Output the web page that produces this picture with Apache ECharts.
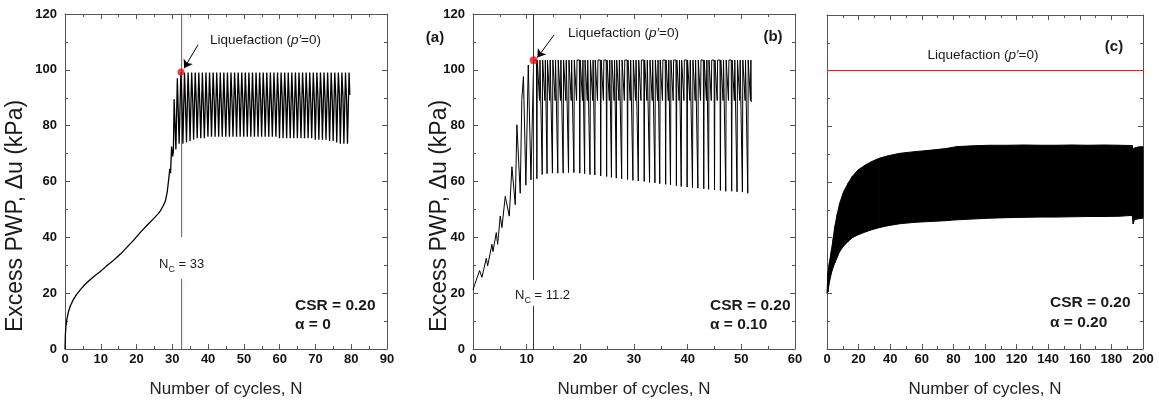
<!DOCTYPE html>
<html><head><meta charset="utf-8">
<script src="https://cdn.jsdelivr.net/npm/echarts@6/dist/echarts.min.js"></script>
<style>html,body{margin:0;padding:0;background:#fff}#c{width:1159px;height:403px}</style>
</head><body><div id="c"></div>
<script>
// ---------- Panel (a): CSR 0.20, alpha 0 ----------
const p1Rise = [[0,0],[0.1,5],[0.25,8],[0.5,10.5],[1,13.5],[1.5,15.5],[2.3,17.6],[3.2,19.5],[4.2,21.1],[5.5,23],[7,24.8],[8.5,26.4],[9.8,27.7],[11.5,29.6],[13.5,31.7],[15.5,34],[17.3,36.4],[19.2,39],[21,41.7],[23,44.4],[24.7,46.6],[26,48.4],[26.6,49.4],[27.5,51.4],[28.1,53.2],[28.6,56.5],[29,61],[29.3,64.5],[29.5,63],[29.8,72.5],[30.1,69],[30.3,71],[30.5,89.5],[31.0,71.5],[31.4,97],[31.9,73.5],[32.4,99.2]];
const p1Cycles = [[32.7,88],[32.95,73.5],[33.4,99],[33.7,87],[33.95,74],[34.4,99],[34.7,88],[34.95,74.5],[35.4,99],[35.7,89],[35.95,75],[36.4,99],[36.7,88],[36.95,75.5],[37.4,99],[37.7,87],[37.95,75.5],[38.4,99],[38.7,86],[38.95,75.5],[39.4,99],[39.7,87],[39.95,76],[40.4,99],[40.7,88],[40.95,76],[41.4,99],[41.7,89],[41.95,76],[42.4,99],[42.7,88],[42.95,76],[43.4,99],[43.7,87],[43.95,76],[44.4,99],[44.7,86],[44.95,76],[45.4,99],[45.7,87],[45.95,76],[46.4,99],[46.7,88],[46.95,76],[47.4,99],[47.7,89],[47.95,76],[48.4,99],[48.7,90],[48.95,76],[49.4,99],[49.7,89],[49.95,76],[50.4,99],[50.7,88],[50.95,76],[51.4,99],[51.7,87],[51.95,76],[52.4,99],[52.7,87],[52.95,76],[53.4,99],[53.7,88],[53.95,76],[54.4,99],[54.7,89],[54.95,76],[55.4,99],[55.7,89],[55.95,76],[56.4,99],[56.7,88],[56.95,76],[57.4,99],[57.7,87],[57.95,76],[58.4,99],[58.7,88],[58.95,76],[59.4,99],[59.7,89],[59.95,75.5],[60.4,99],[60.7,90],[60.95,75.5],[61.4,99],[61.7,89],[61.95,75.5],[62.4,99],[62.7,88],[62.95,75.5],[63.4,99],[63.7,87],[63.95,75.5],[64.4,99],[64.7,88],[64.95,75.5],[65.4,99],[65.7,89],[65.95,75.5],[66.4,99],[66.7,90],[66.95,75.5],[67.4,99],[67.7,89],[67.95,75.5],[68.4,99],[68.7,88],[68.95,75.5],[69.4,99],[69.7,89],[69.95,75],[70.4,99],[70.7,90],[70.95,75],[71.4,99],[71.7,90],[71.95,75],[72.4,99],[72.7,89],[72.95,75],[73.4,99],[73.7,88],[73.95,74.5],[74.4,99],[74.7,89],[74.95,74.5],[75.4,99],[75.7,90],[75.95,74],[76.4,99],[76.7,91],[76.95,73.5],[77.4,99],[77.7,90],[77.95,73.5],[78.4,99],[78.7,89],[78.95,73.5],[79.4,99],[79.6,91]];
const p1Nc = 32.6;
const p1Liq = [32.4, 99.2];
const p1Arrow = [[37.2,109],[33.3,100.6]];

// ---------- Panel (b): CSR 0.20, alpha 0.10 ----------
const p2Rise = [[0,21.2],[0.3,23],[1.23,28.1],[1.67,25.7],[2.48,32.5],[2.73,29.8],[3.53,37.5],[3.72,34.9],[4.34,41.7],[4.59,37.5],[5.08,47.6],[5.39,43.5],[6.01,54.7],[6.76,47.6],[7.25,65.3],[7.87,51.7],[8.18,80.3],[8.8,55.8],[9.1,89.4],[9.4,97.6],[9.85,58.7],[10.3,101.7],[10.8,60.6],[11.3,103.4]];
const p2Cycles = [
[11.82,103.5],[11.9,61],[11.98,103.5],[12.32,103.5],[12.4,89],[12.48,103.5],
[12.82,103.5],[12.9,62.5],[12.98,103.5],[13.32,103.5],[13.4,89],[13.48,103.5],
[13.72,103.5],[13.8,62.8],[13.88,103.5],[14.22,103.5],[14.3,89],[14.38,103.5],
[14.72,103.5],[14.8,63],[14.88,103.5],[15.22,103.5],[15.3,89],[15.38,103.5],
[15.72,103.5],[15.8,63],[15.88,103.5],[16.22,103.5],[16.3,89],[16.38,103.5],
[16.72,103.5],[16.8,63],[16.88,103.5],[17.22,103.5],[17.3,89],[17.38,103.5],
[17.72,103.5],[17.8,63.2],[17.88,103.5],[18.22,103.5],[18.3,89],[18.38,103.5],
[18.72,103.5],[18.8,63.2],[18.88,103.5],[19.22,103.5],[19.3,89],[19.38,103.5],
[19.82,103.5],[19.9,63],[19.98,103.5],[20.32,103.5],[20.4,89],[20.48,103.5],
[20.72,103.5],[20.8,62.8],[20.88,103.5],[21.22,103.5],[21.3,89],[21.38,103.5],
[21.72,103.5],[21.8,62.5],[21.88,103.5],[22.22,103.5],[22.3,89],[22.38,103.5],
[22.62,103.5],[22.7,62.3],[22.78,103.5],[23.12,103.5],[23.2,89],[23.28,103.5],
[23.72,103.5],[23.8,62],[23.88,103.5],[24.22,103.5],[24.3,89],[24.38,103.5],
[24.82,103.5],[24.9,61.8],[24.98,103.5],[25.32,103.5],[25.4,89],[25.48,103.5],
[25.72,103.5],[25.8,61.5],[25.88,103.5],[26.22,103.5],[26.3,89],[26.38,103.5],
[26.62,103.5],[26.7,61.2],[26.78,103.5],[27.12,103.5],[27.2,89],[27.28,103.5],
[27.62,103.5],[27.7,61],[27.78,103.5],[28.12,103.5],[28.2,89],[28.28,103.5],
[28.72,103.5],[28.8,60.7],[28.88,103.5],[29.22,103.5],[29.3,89],[29.38,103.5],
[29.72,103.5],[29.8,60.4],[29.88,103.5],[30.22,103.5],[30.3,89],[30.38,103.5],
[30.72,103.5],[30.8,60.2],[30.88,103.5],[31.22,103.5],[31.3,89],[31.38,103.5],
[31.82,103.5],[31.9,60],[31.98,103.5],[32.32,103.5],[32.4,89],[32.48,103.5],
[32.82,103.5],[32.9,59.7],[32.98,103.5],[33.32,103.5],[33.4,89],[33.48,103.5],
[33.82,103.5],[33.9,59.5],[33.98,103.5],[34.32,103.5],[34.4,89],[34.48,103.5],
[34.72,103.5],[34.8,59.2],[34.88,103.5],[35.22,103.5],[35.3,89],[35.38,103.5],
[35.82,103.5],[35.9,59],[35.98,103.5],[36.32,103.5],[36.4,89],[36.48,103.5],
[36.72,103.5],[36.8,58.8],[36.88,103.5],[37.22,103.5],[37.3,89],[37.38,103.5],
[37.82,103.5],[37.9,58.5],[37.98,103.5],[38.32,103.5],[38.4,89],[38.48,103.5],
[38.72,103.5],[38.8,58.2],[38.88,103.5],[39.22,103.5],[39.3,89],[39.38,103.5],
[39.82,103.5],[39.9,58],[39.98,103.5],[40.32,103.5],[40.4,89],[40.48,103.5],
[40.82,103.5],[40.9,57.8],[40.98,103.5],[41.32,103.5],[41.4,89],[41.48,103.5],
[41.82,103.5],[41.9,57.6],[41.98,103.5],[42.32,103.5],[42.4,89],[42.48,103.5],
[42.92,103.5],[43.0,57.4],[43.08,103.5],[43.42,103.5],[43.5,89],[43.58,103.5],
[43.82,103.5],[43.9,57.2],[43.98,103.5],[44.32,103.5],[44.4,89],[44.48,103.5],
[44.92,103.5],[45.0,57],[45.08,103.5],[45.42,103.5],[45.5,89],[45.58,103.5],
[46.02,103.5],[46.1,56.8],[46.18,103.5],[46.52,103.5],[46.6,89],[46.68,103.5],
[47.02,103.5],[47.1,56.5],[47.18,103.5],[47.52,103.5],[47.6,89],[47.68,103.5],
[48.12,103.5],[48.2,56.5],[48.28,103.5],[48.62,103.5],[48.7,89],[48.78,103.5],
[49.12,103.5],[49.2,56.3],[49.28,103.5],[49.62,103.5],[49.7,89],[49.78,103.5],
[50.12,103.5],[50.2,56.2],[50.28,103.5],[50.62,103.5],[50.7,89],[50.78,103.5],
[51.12,103.5],[51.2,55.8],[51.28,103.5],[51.62,103.5],[51.7,89],[51.78,103.5],[51.85,88.5]];
const p2Nc = 11.2;
const p2Liq = [11.3, 103.4];
const p2Arrow = [[15.1,112.5],[12.0,104.4]];

// ---------- Panel (c): CSR 0.20, alpha 0.20 (envelope of dense oscillation) ----------
const p3N     = [0, 0.6, 1.5, 2.8, 4, 4.9, 6.5, 8, 10.5, 13.3, 16, 19.6, 24, 28.1, 33, 38.6, 46, 55.5, 65, 75, 82, 92, 103, 115, 125, 135, 145, 155, 165, 175, 185, 193.2, 193.8, 194.5, 197, 200];
const p3Upper = [20.1, 27.3, 31, 35.6, 40, 43.9, 48.5, 52.3, 56.5, 59.5, 62, 64.3, 66, 67.3, 68.5, 69.4, 70.3, 70.9, 71.4, 72, 72.7, 73, 73.2, 73.2, 73.3, 73.2, 73.2, 73.3, 73.2, 73.3, 73.2, 73.1, 71.5, 72.2, 72.6, 72.7];
const p3Lower = [20, 20.5, 24, 27.3, 29.5, 30.9, 33, 35, 37, 38.6, 40, 41, 42, 42.8, 43.6, 44.3, 45, 45.5, 45.8, 46.1, 46.4, 46.7, 47, 47.2, 47.3, 47.4, 47.4, 47.5, 47.6, 47.6, 47.7, 48, 45, 46.4, 46.8, 47];
const p3Liq = 100;

// axis tick settings
const xMax = [90, 60, 200];
const xInt = [10, 10, 20];
const yMax = 120, yInt = 20;

const FONT = '"Liberation Sans", Arial, Helvetica, sans-serif';
const AX = '#555';

function xAxis(g, pos, labels) {
  return {
    type: 'value', gridIndex: g, min: 0, max: xMax[g], interval: xInt[g], position: pos,
    axisLine: {show: true, onZero: false, lineStyle: {color: AX, width: 1}},
    axisTick: {show: true, inside: true, length: 5, lineStyle: {color: AX}},
    minorTick: {show: true, splitNumber: 2, length: 3, lineStyle: {color: AX}},
    splitLine: {show: false}, minorSplitLine: {show: false},
    axisLabel: {show: labels, fontSize: 13, fontWeight: 'bold', color: '#111', fontFamily: FONT, margin: 4},
    name: labels ? 'Number of cycles, N' : '', nameLocation: 'middle', nameGap: 32,
    nameTextStyle: {fontSize: 17, color: '#222', fontFamily: FONT}
  };
}
function yAxis(g, pos, labels) {
  return {
    type: 'value', gridIndex: g, min: 0, max: yMax, interval: yInt, position: pos,
    axisLine: {show: true, onZero: false, lineStyle: {color: AX, width: 1}},
    axisTick: {show: true, inside: true, length: 5, lineStyle: {color: AX}},
    minorTick: {show: true, splitNumber: 2, length: 3, lineStyle: {color: AX}},
    splitLine: {show: false}, minorSplitLine: {show: false},
    axisLabel: {show: labels, fontSize: 13, fontWeight: 'bold', color: '#111', fontFamily: FONT, margin: 8}
  };
}

const xAxes = [], yAxes = [];
for (let g = 0; g < 3; g++) {
  xAxes.push(xAxis(g, 'bottom', true));
  xAxes.push(xAxis(g, 'top', false));
  yAxes.push(yAxis(g, 'left', g < 2));
  yAxes.push(yAxis(g, 'right', false));
}

function text(x, y, t, size, weight, align, extra) {
  return Object.assign({type: 'text', x: x, y: y, z: 100,
    style: {text: t, fontSize: size, fontWeight: weight || 'normal', fontFamily: FONT, fill: '#1a1a1a', align: align || 'left', verticalAlign: 'middle'}}, extra || {});
}
function liqText(x, y, align) {
  return {type: 'text', x: x, y: y, z: 100, style: {
    text: '{a|Liquefaction (}{i|p\u2032}{a|=0)}', align: align, verticalAlign: 'middle', fill: '#1a1a1a',
    rich: {a: {fontSize: 13.5, fontFamily: FONT, fill: '#1a1a1a'}, i: {fontSize: 13.5, fontFamily: FONT, fontStyle: 'italic', fill: '#1a1a1a'}}}};
}
function ncText(x, y, val, pad) {
  return {type: 'text', x: x, y: y, z: 100, style: {
    text: '{n|N}{s|C}{n| = ' + val + '}', align: 'left', verticalAlign: 'middle',
    backgroundColor: '#fff', padding: pad,
    rich: {n: {fontSize: 13, fontFamily: FONT, fill: '#1a1a1a', lineHeight: 18, verticalAlign: 'bottom'},
           s: {fontSize: 9, fontFamily: FONT, fill: '#1a1a1a', height: 3, verticalAlign: 'bottom'}}}};
}

const arrowML = (pts) => ({
  silent: true, animation: false, symbolSize: 8,
  lineStyle: {color: '#000', width: 1, type: 'solid'}, label: {show: false},
  data: [[{coord: pts[0], symbol: 'none'}, {coord: pts[1], symbol: 'arrow'}]]
});

function bandItem(params, api) {
  const i = params.dataIndex;
  if (i >= p3N.length - 1) return null;
  const pts = [
    api.coord([p3N[i], p3Upper[i]]), api.coord([p3N[i + 1], p3Upper[i + 1]]),
    api.coord([p3N[i + 1], p3Lower[i + 1]]), api.coord([p3N[i], p3Lower[i]])
  ];
  return {type: 'polygon', shape: {points: pts}, style: {fill: '#000', stroke: '#000', lineWidth: 1}};
}

const option = {
  animation: false,
  backgroundColor: '#fff',
  grid: [
    {left: 65, top: 14, width: 322, height: 339},
    {left: 473, top: 14, width: 322, height: 338},
    {left: 827, top: 15, width: 316, height: 334}
  ],
  xAxis: xAxes,
  yAxis: yAxes,
  series: [
    {type: 'line', xAxisIndex: 0, yAxisIndex: 0, data: [[p1Nc, 0], [p1Nc, yMax]], showSymbol: false, symbol: 'none',
     lineStyle: {color: '#d22b2b', width: 1}, itemStyle: {color: '#d22b2b'}, z: 2, silent: true},
    {type: 'line', xAxisIndex: 0, yAxisIndex: 0, data: p1Rise.concat(p1Cycles), showSymbol: false, symbol: 'none',
     lineStyle: {color: '#000', width: 1.3}, itemStyle: {color: '#000'}, z: 3},
    {type: 'scatter', xAxisIndex: 0, yAxisIndex: 0, data: [p1Liq], symbolSize: 7, itemStyle: {color: '#e8141c'}, z: 5,
     markLine: arrowML(p1Arrow)},
    {type: 'line', xAxisIndex: 2, yAxisIndex: 2, data: p2Rise.concat(p2Cycles), showSymbol: false, symbol: 'none',
     lineStyle: {color: '#000', width: 1}, itemStyle: {color: '#000'}, z: 3,
     markLine: {silent: true, symbol: 'none', animation: false, label: {show: false},
       lineStyle: {color: '#333', width: 1, type: 'solid'}, data: [{xAxis: p2Nc}]}},
    {type: 'scatter', xAxisIndex: 2, yAxisIndex: 2, data: [p2Liq], symbolSize: 8, itemStyle: {color: '#e8141c'}, z: 5,
     markLine: arrowML(p2Arrow)},
    {type: 'custom', xAxisIndex: 4, yAxisIndex: 4, renderItem: bandItem,
     data: p3N.map((n, i) => [n, p3Upper[i], p3Lower[i]]), encode: {x: 0, y: [1, 2]}, z: 3,
     markLine: {silent: true, symbol: 'none', animation: false, label: {show: false},
       lineStyle: {color: '#d42a2a', width: 1, type: 'solid'}, data: [{yAxis: p3Liq}]}}
  ],
  graphic: {elements: [
    text(16, 216, 'Excess PWP, \u0394u (kPa)', 23, 'normal', 'center', {rotation: Math.PI / 2}),
    text(440, 216, 'Excess PWP, \u0394u (kPa)', 23, 'normal', 'center', {rotation: Math.PI / 2}),
    liqText(210, 40, 'left'),
    liqText(568, 33, 'left'),
    liqText(983, 55, 'center'),
    ncText(157, 258, '33', [16, 2, 8, 2]),
    ncText(513, 293, '11.2', [4, 2, 4, 2]),
    text(295, 306, 'CSR = 0.20', 15.5, 'bold'),
    text(295, 325, '\u03b1 = 0', 15.5, 'bold'),
    text(710, 306, 'CSR = 0.20', 15.5, 'bold'),
    text(710, 325, '\u03b1 = 0.10', 15.5, 'bold'),
    text(1050, 303, 'CSR = 0.20', 15.5, 'bold'),
    text(1050, 323, '\u03b1 = 0.20', 15.5, 'bold'),
    text(435, 38, '(a)', 15, 'bold', 'center'),
    text(773, 37, '(b)', 15, 'bold', 'center'),
    text(1114, 47, '(c)', 15, 'bold', 'center')
  ]}
};
const chart = echarts.init(document.getElementById('c'), null, {renderer: 'canvas'});
chart.setOption(option);
</script>
</body></html>
